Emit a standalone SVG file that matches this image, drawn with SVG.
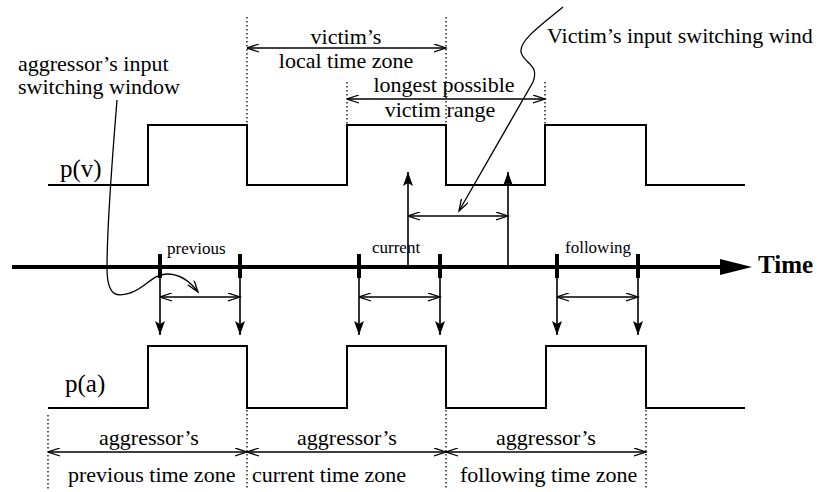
<svg xmlns="http://www.w3.org/2000/svg" width="821" height="492" viewBox="0 0 821 492">
<style>
text{font-family:"Liberation Serif","Times New Roman",serif;fill:#000}
.t22{font-size:22px}
.t17{font-size:17px}
.mid{text-anchor:middle}
.wave{fill:none;stroke:#000;stroke-width:2}
.dot{fill:none;stroke:#000;stroke-width:1.3;stroke-dasharray:1.5 2.5}
.dbl{fill:none;stroke:#000;stroke-width:1.3;marker-start:url(#openS);marker-end:url(#openE)}
.down{fill:none;stroke:#000;stroke-width:1.6;marker-end:url(#solid)}
.tick{stroke:#000;stroke-width:4}
.curve{fill:none;stroke:#000;stroke-width:1.3;marker-end:url(#openE)}
</style>
<defs>
<marker id="openE" markerUnits="userSpaceOnUse" markerWidth="14" markerHeight="10" refX="12" refY="4" orient="auto">
<path d="M0,0 L12,4 L0,8" fill="none" stroke="#000" stroke-width="1.3"/>
</marker>
<marker id="openS" markerUnits="userSpaceOnUse" markerWidth="14" markerHeight="10" refX="0" refY="4" orient="auto">
<path d="M12,0 L0,4 L12,8" fill="none" stroke="#000" stroke-width="1.3"/>
</marker>
<marker id="solid" markerUnits="userSpaceOnUse" markerWidth="14" markerHeight="12" refX="14" refY="5" orient="auto">
<path d="M0,0 L14,5 L0,10 L3,5 Z" fill="#000"/>
</marker>
</defs>

<g id="pv-signal">
<path class="wave" d="M48,185 H148 V125 H247 V185 H347 V125 H446 V185 H545 V125 H646 V185 H745"/>
<text class="t22" x="60" y="177" style="font-size:25px">p(v)</text>
</g>

<g id="pa-signal">
<path class="wave" d="M48,408 H148 V346 H247 V408 H347 V346 H446 V408 H546 V346 H646 V408 H745"/>
<text class="t22" x="65" y="392" style="font-size:25px">p(a)</text>
</g>

<g id="time-axis">
<line x1="12" y1="267" x2="724" y2="267" stroke="#000" stroke-width="4"/>
<polygon points="720,259 752,267 720,275" fill="#000"/>
<text x="758" y="273" style="font-size:25px;font-weight:bold">Time</text>
<line class="tick" x1="160" y1="254" x2="160" y2="278"/>
<line class="tick" x1="240" y1="254" x2="240" y2="278"/>
<line class="tick" x1="359" y1="254" x2="359" y2="278"/>
<line class="tick" x1="440" y1="254" x2="440" y2="278"/>
<line class="tick" x1="557" y1="254" x2="557" y2="278"/>
<line class="tick" x1="638" y1="254" x2="638" y2="278"/>
<text class="t17" x="167" y="254">previous</text>
<text class="t17" x="372" y="253">current</text>
<text class="t17" x="565" y="253">following</text>
</g>

<g id="victim-local-zone">
<line class="dot" x1="247" y1="17" x2="247" y2="125"/>
<line class="dot" x1="446" y1="17" x2="446" y2="125"/>
<text class="t22 mid" x="346" y="44">victim’s</text>
<text class="t22 mid" x="346" y="68">local time zone</text>
</g>

<g id="victim-range">
<line class="dot" x1="347" y1="82" x2="347" y2="125"/>
<line class="dot" x1="545" y1="82" x2="545" y2="125"/>
<text class="t22 mid" x="444" y="92">longest possible</text>
<text class="t22 mid" x="440" y="117">victim range</text>
</g>

<g id="aggressor-window-label">
<text class="t22" x="18" y="71">aggressor’s input</text>
<text class="t22" x="18" y="94">switching window</text>
</g>

<g id="victim-window-label">
<text class="t22" x="547" y="43">Victim’s input switching wind</text>
</g>

<g id="aggressor-zones">
<line class="dot" x1="48" y1="415" x2="48" y2="490"/>
<line class="dot" x1="247" y1="410" x2="247" y2="490"/>
<line class="dot" x1="446" y1="410" x2="446" y2="490"/>
<line class="dot" x1="646" y1="410" x2="646" y2="490"/>
<text class="t22 mid" x="149" y="445">aggressor’s</text>
<text class="t22 mid" x="347" y="445">aggressor’s</text>
<text class="t22 mid" x="546" y="445">aggressor’s</text>
<text class="t22" x="68" y="482">previous time zone</text>
<text class="t22" x="252" y="482">current time zone</text>
<text class="t22" x="460" y="482">following time zone</text>
</g>

<g id="connectors">
<line class="dbl" x1="247" y1="48" x2="446" y2="48"/>
<line class="dbl" x1="347" y1="99" x2="545" y2="99"/>
<line class="dbl" x1="408" y1="216" x2="508" y2="216"/>
<line class="dbl" x1="160" y1="297" x2="240" y2="297"/>
<line class="dbl" x1="359" y1="297" x2="440" y2="297"/>
<line class="dbl" x1="557" y1="297" x2="638" y2="297"/>
<line class="dbl" x1="48" y1="452" x2="247" y2="452"/>
<line class="dbl" x1="247" y1="452" x2="446" y2="452"/>
<line class="dbl" x1="446" y1="452" x2="646" y2="452"/>
<line class="down" x1="408" y1="267" x2="408" y2="172"/>
<line class="down" x1="508" y1="267" x2="508" y2="172"/>
<line class="down" x1="160" y1="267" x2="160" y2="335"/>
<line class="down" x1="240" y1="267" x2="240" y2="335"/>
<line class="down" x1="359" y1="267" x2="359" y2="335"/>
<line class="down" x1="440" y1="267" x2="440" y2="335"/>
<line class="down" x1="557" y1="267" x2="557" y2="335"/>
<line class="down" x1="638" y1="267" x2="638" y2="335"/>
<path class="curve" d="M117,100 C113,150 107,220 107,268 C107,300 120,296 130,293 C145,289 152,274 167,274 C182,274 192,284 198,292"/>
<path class="curve" d="M563,7 C545,22 519,40 521,52 C523,63 540,64 533,82 L459,211"/>
</g>
</svg>
